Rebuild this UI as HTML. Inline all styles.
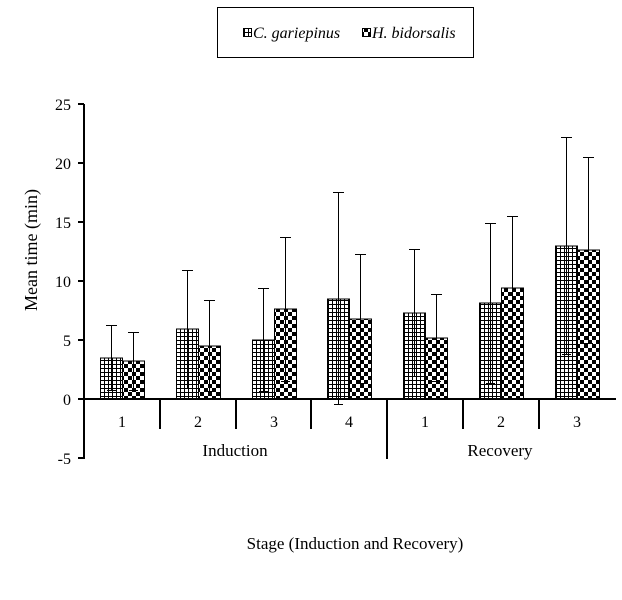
<!DOCTYPE html>
<html><head><meta charset="utf-8"><style>body{margin:0;background:#fff}svg{display:block}text{font-family:"Liberation Serif",serif;font-size:16px;fill:#000}</style></head><body>
<svg width="622" height="600" viewBox="0 0 622 600" xmlns="http://www.w3.org/2000/svg">
<defs>
<pattern id="grid" width="4" height="4" patternUnits="userSpaceOnUse"><rect width="4" height="4" fill="#fff"/><path d="M0 0.5H4M0.5 0V4" stroke="#000" stroke-width="1"/></pattern>
<pattern id="chk" width="8" height="8" patternUnits="userSpaceOnUse"><rect width="8" height="8" fill="#fff"/><rect width="4" height="4" fill="#000"/><rect x="4" y="4" width="4" height="4" fill="#000"/></pattern>
</defs>
<rect x="217.5" y="7.5" width="256" height="50" fill="#fff" stroke="#000"/>
<rect x="243.5" y="28.5" width="8" height="8" fill="url(#grid)" stroke="#000"/>
<text x="253" y="38" font-style="italic">C. gariepinus</text>
<rect x="362.5" y="28.5" width="8" height="8" fill="url(#chk)" stroke="#000"/>
<text x="372" y="38" font-style="italic">H. bidorsalis</text>
<g text-anchor="end">
<text x="71" y="110">25</text><text x="71" y="169">20</text><text x="71" y="228">15</text><text x="71" y="287">10</text><text x="71" y="346">5</text><text x="71" y="405">0</text><text x="71" y="464">-5</text>
</g>
<text transform="translate(37,250) rotate(-90)" text-anchor="middle" style="font-size:18px">Mean time (min)</text>
<g stroke="#000" stroke-width="2" fill="none">
<path d="M84 104V459"/>
<path d="M78 104H84M78 163H84M78 222H84M78 281H84M78 340H84M78 399H84M78 458H84"/>
</g>
<g stroke="#000" stroke-width="1">
<rect x="100.5" y="358" width="22" height="41" fill="url(#grid)"/>
<rect x="122.5" y="361" width="22" height="38" fill="url(#chk)"/>
<rect x="176.5" y="329" width="22" height="70" fill="url(#grid)"/>
<rect x="198.5" y="346" width="22" height="53" fill="url(#chk)"/>
<rect x="252.5" y="340" width="22" height="59" fill="url(#grid)"/>
<rect x="274.5" y="309" width="22" height="90" fill="url(#chk)"/>
<rect x="327.5" y="299" width="22" height="100" fill="url(#grid)"/>
<rect x="349.5" y="319" width="22" height="80" fill="url(#chk)"/>
<rect x="403.5" y="313" width="22" height="86" fill="url(#grid)"/>
<rect x="425.5" y="338" width="22" height="61" fill="url(#chk)"/>
<rect x="479.5" y="303" width="22" height="96" fill="url(#grid)"/>
<rect x="501.5" y="288" width="22" height="111" fill="url(#chk)"/>
<rect x="555.5" y="246" width="22" height="153" fill="url(#grid)"/>
<rect x="577.5" y="250" width="22" height="149" fill="url(#chk)"/>
</g>
<g stroke="#000" stroke-width="1" fill="none">
<path d="M111.5 325V391M106 325.5H117M107 390.5H116"/>
<path d="M133.5 332V391M128 332.5H139M129 390.5H138"/>
<path d="M187.5 270V388M182 270.5H193M183 388.5H192"/>
<path d="M209.5 300V392M204 300.5H215M205 391.5H214"/>
<path d="M263.5 288V392M258 288.5H269M259 391.5H268"/>
<path d="M285.5 237V381M280 237.5H291M281 381.5H290"/>
<path d="M338.5 192V405M333 192.5H344M334 404.5H343"/>
<path d="M360.5 254V384M355 254.5H366M356 383.5H365"/>
<path d="M414.5 249V377M409 249.5H420M410 376.5H419"/>
<path d="M436.5 294V381M431 294.5H442M432 381.5H441"/>
<path d="M490.5 223V384M485 223.5H496M486 383.5H495"/>
<path d="M512.5 216V360M507 216.5H518M508 360.5H517"/>
<path d="M566.5 137V354M561 137.5H572M562 354.5H571"/>
<path d="M588.5 157V344M583 157.5H594M584 343.5H593"/>
</g>
<g stroke="#000" stroke-width="2" fill="none">
<path d="M84 399H616"/>
<path d="M160 399V429M236 399V429M311 399V429M463 399V429M539 399V429M387 399V459"/>
</g>
<g text-anchor="middle">
<text x="122" y="427">1</text><text x="198" y="427">2</text><text x="274" y="427">3</text><text x="349" y="427">4</text>
<text x="425" y="427">1</text><text x="501" y="427">2</text><text x="577" y="427">3</text>
</g>
<text x="235" y="456" text-anchor="middle" style="font-size:17px">Induction</text>
<text x="500" y="456" text-anchor="middle" style="font-size:17px">Recovery</text>
<text x="355" y="549" text-anchor="middle" style="font-size:17px">Stage (Induction and Recovery)</text>
</svg>
</body></html>
